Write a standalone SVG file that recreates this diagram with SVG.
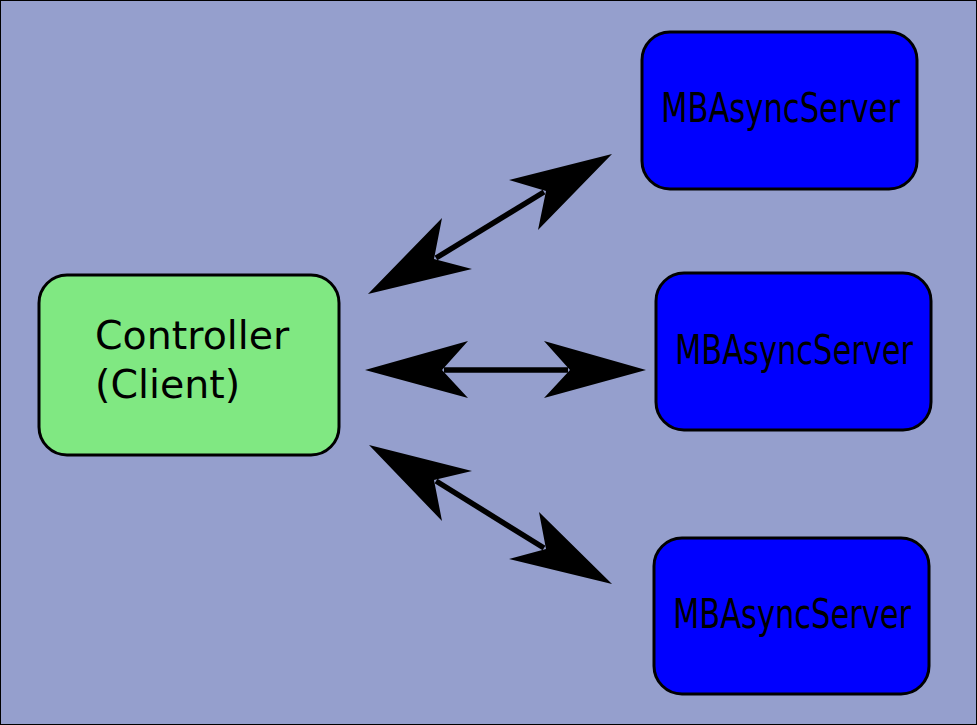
<svg xmlns="http://www.w3.org/2000/svg" width="977" height="725" viewBox="0 0 977 725">
<style>
.node rect{stroke:#000;stroke-width:3}
.client rect{fill:#80e882}
.server rect{fill:#0000ff}
text{font-family:"DejaVu Sans","Liberation Sans",sans-serif;fill:#000}
.arrow line{stroke:#000;stroke-width:5.5}
.arrow polygon{fill:#000}
</style>
<rect x="0.5" y="0.5" width="976" height="724" fill="#959fcd" stroke="#000" stroke-width="1"/>
<g id="client" class="node client">
<rect x="39" y="275" width="300" height="180" rx="28"/>
<text x="95" y="349" font-size="39.5">Controller</text>
<text x="95" y="398" font-size="39.5">(Client)</text>
</g>
<g id="server1" class="node server">
<rect x="642" y="32" width="275" height="157" rx="28"/>
<text x="661" y="122" font-size="40" textLength="239" lengthAdjust="spacingAndGlyphs">MBAsyncServer</text>
</g>
<g id="server2" class="node server">
<rect x="656" y="273" width="275" height="157" rx="28"/>
<text x="675" y="364" font-size="40" textLength="238" lengthAdjust="spacingAndGlyphs">MBAsyncServer</text>
</g>
<g id="server3" class="node server">
<rect x="654" y="538" width="275" height="156" rx="28"/>
<text x="673" y="628" font-size="40" textLength="238" lengthAdjust="spacingAndGlyphs">MBAsyncServer</text>
</g>
<g id="connectors">
<g class="arrow">
<line x1="436" y1="258" x2="544" y2="192"/>
<polygon points="368,294 442,218 434,259 472,269"/>
<polygon points="612,154 509,180 546,191 538,230"/>
</g>
<g class="arrow">
<line x1="444" y1="370" x2="568" y2="370"/>
<polygon points="365,370 468,341 442,370 468,398"/>
<polygon points="646,370 544,341 570,370 544,398"/>
</g>
<g class="arrow">
<line x1="436" y1="481" x2="544" y2="548"/>
<polygon points="369,445 472,471 434,480 442,521"/>
<polygon points="612,584 539,512 546,549 509,559"/>
</g>
</g>
</svg>
